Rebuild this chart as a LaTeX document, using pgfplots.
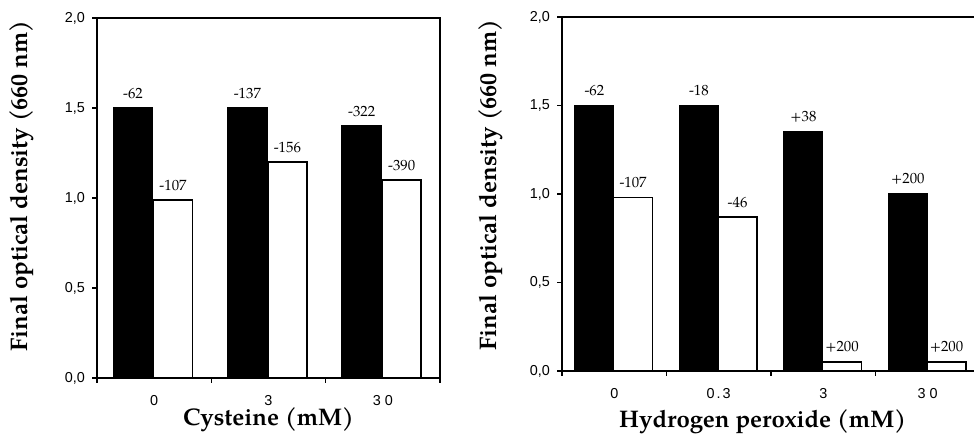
\documentclass[border=0pt]{standalone}
\usepackage{fontspec}
\setmainfont{TeX Gyre Pagella}
\setsansfont{Liberation Sans}
\usepackage{pgfplots}
\pgfplotsset{compat=1.18}

% 1 px of the reference = 0.5pt
\pgfplotsset{
  odpanel/.style={
    scale only axis, anchor=south west, clip=false,
    axis line style={line width=1pt},
    ymin=0, ymax=2, ytick={0,0.5,1,1.5,2},
    tick pos=left, tick align=outside,
    major tick length=2.5pt,
    every tick/.style={black, line width=0.8pt},
    yticklabel style={/pgf/number format/.cd, fixed, fixed zerofill, precision=1, use comma, assume math mode=true},
    ticklabel style={font=\sffamily\fontsize{7.2}{8}\selectfont},
    xticklabels={},
    xticklabel style={yshift=-5pt},
    extra x tick style={major tick length=0pt},
    label style={font=\bfseries\fontsize{12}{14}\selectfont},
  },
  blk/.style={ybar, bar shift=0pt, fill=black, draw=black, line width=0.75pt,
    nodes near coords, point meta=explicit symbolic,
    every node near coord/.append style={font=\fontsize{7.4}{8}\selectfont, yshift=1pt}},
  wht/.style={blk, fill=white},
}

\begin{document}
\begin{tikzpicture}
\begin{axis}[odpanel,
    at={(48.5pt,29.5pt)}, width=171.5pt, height=180pt,
    xmin=-0.5, xmax=2.5,
    xtick={-0.5,0.5,1.5,2.5},
    extra x ticks={0,1,2},
    extra x tick labels={0,3,3\hspace{2pt}0},
    xlabel={Cysteine (mM)},
    ylabel={Final optical density (660 nm)},
    xlabel style={at={(axis description cs:0.5,-0.117)}, anchor=center},
    ylabel style={at={(axis description cs:-0.219,0.533)}, anchor=center},
  ]
  % bars at category -0.185 (black) and +0.165 (white)
  \addplot[blk, bar width=0.34] coordinates {(-0.185,1.5) [-62] (0.815,1.5) [-137] (1.815,1.4) [-322]};
  \addplot[wht, bar width=0.34] coordinates {(0.165,0.99) [-107] (1.165,1.2) [-156] (2.165,1.1) [-390]};
\end{axis}

\begin{axis}[odpanel,
    at={(281pt,33pt)}, width=209pt, height=177pt,
    xmin=-0.5, xmax=3.5,
    xtick={-0.5,0.5,1.5,2.5,3.5},
    extra x ticks={0,1,2,3},
    extra x tick labels={0,0\hspace{1pt}.\hspace{1pt}3,3,3\hspace{2pt}0},
    xlabel={Hydrogen peroxide (mM)},
    ylabel={Final optical density (660 nm)},
    xlabel style={at={(axis description cs:0.48,-0.144)}, anchor=center},
    ylabel style={at={(axis description cs:-0.17,0.525)}, anchor=center},
  ]
  % bars at category -0.19 (black) and +0.18 (white)
  \addplot[blk, bar width=0.37] coordinates {(-0.19,1.5) [-62] (0.81,1.5) [-18] (1.81,1.35) [+38] (2.81,1.0) [+200]};
  \addplot[wht, bar width=0.37] coordinates {(0.18,0.98) [-107] (1.18,0.87) [-46] (2.18,0.05) [+200] (3.18,0.05) [+200]};
\end{axis}

\pgfresetboundingbox
\path[use as bounding box] (0,0) rectangle (487pt,218.5pt);
\end{tikzpicture}
\end{document}
